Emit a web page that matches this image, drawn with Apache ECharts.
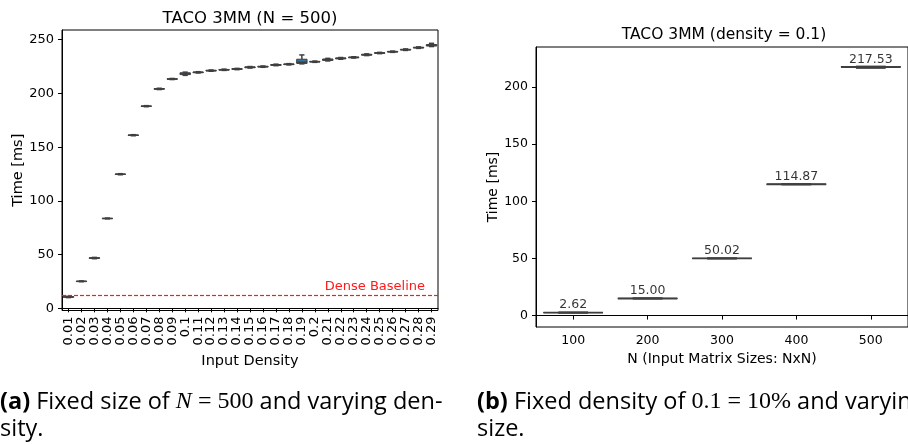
<!DOCTYPE html>
<html>
<head>
<meta charset="utf-8">
<script src="https://cdn.jsdelivr.net/npm/echarts@6/dist/echarts.min.js"></script>
<style>
  html, body { margin: 0; padding: 0; background: #fff; }
  #main { width: 908px; height: 445px; }
</style>
</head>
<body>
<div id="main"></div>
<script>
// (a) TACO 3MM, N = 500, varying density: [min, q1, median, q3, max] in ms
const densityLabels = ['0.01', '0.02', '0.03', '0.04', '0.05', '0.06', '0.07', '0.08', '0.09', '0.1',
  '0.11', '0.12', '0.13', '0.14', '0.15', '0.16', '0.17', '0.18', '0.19', '0.2',
  '0.21', '0.22', '0.23', '0.24', '0.25', '0.26', '0.27', '0.28', '0.29'];
const densityStats = [
  [10.0, 10.3, 10.6, 10.9, 11.2],
  [24.8, 25.0, 25.1, 25.3, 25.5],
  [46.2, 46.5, 46.8, 47.1, 47.4],
  [83.3, 83.5, 83.6, 83.8, 84.0],
  [124.3, 124.6, 124.8, 125.0, 125.3],
  [160.6, 160.9, 161.1, 161.3, 161.6],
  [187.6, 187.9, 188.1, 188.3, 188.6],
  [203.6, 203.9, 204.2, 204.5, 204.8],
  [212.9, 213.2, 213.4, 213.6, 213.9],
  [216.8, 217.5, 218.3, 219.2, 219.8],
  [219.0, 219.3, 219.6, 219.9, 220.2],
  [220.6, 220.9, 221.2, 221.5, 221.8],
  [221.4, 221.7, 222.0, 222.3, 222.6],
  [222.1, 222.4, 222.7, 223.0, 223.3],
  [223.6, 223.9, 224.3, 224.7, 225.0],
  [224.3, 224.6, 224.9, 225.2, 225.5],
  [225.8, 226.1, 226.5, 226.9, 227.2],
  [226.5, 226.8, 227.1, 227.4, 227.7],
  [227.5, 227.9, 229.0, 231.8, 235.8],
  [228.9, 229.2, 229.5, 229.8, 230.1],
  [230.2, 230.7, 231.4, 232.0, 232.6],
  [231.8, 232.2, 232.6, 233.0, 233.4],
  [232.9, 233.2, 233.5, 233.8, 234.1],
  [235.2, 235.6, 236.0, 236.4, 236.8],
  [237.0, 237.3, 237.6, 237.9, 238.2],
  [238.2, 238.5, 238.8, 239.1, 239.4],
  [240.0, 240.4, 240.7, 241.0, 241.4],
  [241.9, 242.3, 242.6, 242.9, 243.3],
  [243.6, 244.1, 244.7, 245.5, 246.6]
];
const denseBaseline = 12;
const leftTicks = [0, 50, 100, 150, 200, 250];

// (b) TACO 3MM, density = 0.1, varying N
const sizeLabels = ['100', '200', '300', '400', '500'];
const sizeMedians = [2.62, 15.00, 50.02, 114.87, 217.53];
const sizeStats = [
  [2.60, 2.61, 2.62, 2.63, 2.64],
  [14.98, 14.99, 15.00, 15.01, 15.02],
  [50.00, 50.01, 50.02, 50.03, 50.04],
  [114.85, 114.86, 114.87, 114.88, 114.89],
  [216.7, 217.4, 217.53, 217.8, 217.9]
];
const rightTicks = [0, 50, 100, 150, 200];

const BOX = '#3274a1';
const EDGE = '#3f3f3f';
const RED = '#ff1a1a';
const FONT = 'DejaVu Sans';

function makeBoxItem(lw) {
  return function (params, api) {
    const i = api.value(0);
    const lo = api.coord([i, api.value(1)]);
    const q1 = api.coord([i, api.value(2)]);
    const md = api.coord([i, api.value(3)]);
    const q3 = api.coord([i, api.value(4)]);
    const hi = api.coord([i, api.value(5)]);
    const w = api.size([1, 0])[0] * 0.8;
    const cx = md[0];
    const st = { stroke: EDGE, lineWidth: lw };
    return {
      type: 'group',
      children: [
        { type: 'line', shape: { x1: cx, y1: lo[1], x2: cx, y2: q1[1] }, style: st },
        { type: 'line', shape: { x1: cx, y1: q3[1], x2: cx, y2: hi[1] }, style: st },
        { type: 'line', shape: { x1: cx - w / 4, y1: lo[1], x2: cx + w / 4, y2: lo[1] }, style: st },
        { type: 'line', shape: { x1: cx - w / 4, y1: hi[1], x2: cx + w / 4, y2: hi[1] }, style: st },
        { type: 'rect', shape: { x: cx - w / 2, y: q3[1], width: w, height: q1[1] - q3[1] },
          style: { fill: BOX, stroke: EDGE, lineWidth: 1 } },
        { type: 'line', shape: { x1: cx - w / 2, y1: md[1], x2: cx + w / 2, y2: md[1] }, style: st }
      ]
    };
  };
}

// horizontal reference line across the whole grid, drawn as short red dashes
function baselineItem(params, api) {
  const cs = params.coordSys;
  const y = Math.round(api.coord([0, api.value(1)])[1]) + 0.5;
  const dashes = [];
  for (let x = cs.x; x < cs.x + cs.width; x += 6) {
    dashes.push({
      type: 'line',
      shape: { x1: x, y1: y, x2: Math.min(x + 4, cs.x + cs.width), y2: y },
      style: { stroke: RED, lineWidth: 1.2 }
    });
  }
  dashes.push({
    type: 'text', x: cs.x + cs.width - 13, y: y - 2,
    style: { text: 'Dense Baseline', fill: RED, font: '13px "DejaVu Sans"', align: 'right', verticalAlign: 'bottom' }
  });
  return { type: 'group', children: dashes };
}

const chart = echarts.init(document.getElementById('main'), null, { renderer: 'canvas' });

const axisBase = {
  axisLine: { show: true, lineStyle: { color: '#000', width: 1 } },
  splitLine: { show: false }
};

chart.setOption({
  animation: false,
  textStyle: { fontFamily: FONT, color: '#000' },
  grid: [
    { left: 62, top: 30, width: 376, height: 280.5, show: true, borderColor: '#000', borderWidth: 1 },
    { left: 536, top: 47, width: 376, height: 280, show: true, borderColor: '#000', borderWidth: 1 }
  ],
  xAxis: [
    {
      ...axisBase,
      type: 'category',
      gridIndex: 0,
      data: densityLabels,
      name: 'Input Density',
      nameLocation: 'middle',
      nameGap: 38,
      nameTextStyle: { fontSize: 14.5, color: '#000', fontFamily: FONT },
      axisTick: { show: true, alignWithLabel: true, interval: 0, length: 4, lineStyle: { color: '#000' } },
      axisLabel: { interval: 0, rotate: 90, fontSize: 13, margin: 6, color: '#000', fontFamily: FONT }
    },
    {
      ...axisBase,
      type: 'category',
      gridIndex: 1,
      data: sizeLabels,
      name: 'N (Input Matrix Sizes: NxN)',
      nameLocation: 'middle',
      nameGap: 24,
      nameTextStyle: { fontSize: 14, color: '#000', fontFamily: FONT },
      axisTick: { show: true, alignWithLabel: true, interval: 0, length: 4, lineStyle: { color: '#000' } },
      axisLabel: { interval: 0, fontSize: 12.5, margin: 7, color: '#000', fontFamily: FONT }
    }
  ],
  yAxis: [
    {
      ...axisBase,
      type: 'value',
      gridIndex: 0,
      min: -2,
      max: 259,
      name: 'Time [ms]',
      nameLocation: 'middle',
      nameGap: 35,
      nameTextStyle: { fontSize: 14.5, color: '#000', fontFamily: FONT },
      axisTick: { show: true, length: 4, customValues: leftTicks, lineStyle: { color: '#000' } },
      axisLabel: { fontSize: 13, margin: 8, color: '#000', customValues: leftTicks, fontFamily: FONT }
    },
    {
      ...axisBase,
      type: 'value',
      gridIndex: 1,
      min: -10,
      max: 235,
      name: 'Time [ms]',
      nameLocation: 'middle',
      nameGap: 36,
      nameTextStyle: { fontSize: 14, color: '#000', fontFamily: FONT },
      axisTick: { show: true, length: 4, customValues: rightTicks, lineStyle: { color: '#000' } },
      axisLabel: { fontSize: 12.5, margin: 8, color: '#000', customValues: rightTicks, fontFamily: FONT }
    }
  ],
  series: [
    {
      name: 'dense baseline',
      type: 'custom',
      xAxisIndex: 0,
      yAxisIndex: 0,
      silent: true,
      z: 5,
      renderItem: baselineItem,
      data: [[0, denseBaseline]]
    },
    {
      name: 'density',
      type: 'custom',
      xAxisIndex: 0,
      yAxisIndex: 0,
      z: 2,
      renderItem: makeBoxItem(1.5),
      data: densityStats.map((s, i) => [i].concat(s))
    },
    {
      name: 'size',
      type: 'custom',
      xAxisIndex: 1,
      yAxisIndex: 1,
      renderItem: makeBoxItem(1.9),
      data: sizeStats.map((s, i) => [i].concat(s))
    },
    {
      name: 'size labels',
      type: 'scatter',
      xAxisIndex: 1,
      yAxisIndex: 1,
      symbolSize: 0,
      silent: true,
      data: sizeMedians.map((v, i) => [i, v]),
      label: {
        show: true,
        position: 'top',
        distance: 1,
        fontSize: 12.5,
        color: '#000',
        fontFamily: FONT,
        formatter: p => p.value[1].toFixed(2)
      }
    }
  ],
  graphic: [
    { type: 'text', x: 250, y: 19, style: { text: 'TACO 3MM (N = 500)', font: '16.5px "DejaVu Sans"', fill: '#000', align: 'center', verticalAlign: 'middle' } },
    { type: 'text', x: 724, y: 35, style: { text: 'TACO 3MM (density = 0.1)', font: '15.5px "DejaVu Sans"', fill: '#000', align: 'center', verticalAlign: 'middle' } },
    {
      type: 'text', x: 0, y: 402,
      style: {
        text: '{b|(a)} Fixed size of {i|N} {m|= 500} and varying den-',
        font: '23.5px "Open Sans"', fill: '#000', verticalAlign: 'middle',
        rich: {
          b: { fontWeight: 'bold', fontSize: 23.5, fontFamily: 'Open Sans' },
          i: { fontStyle: 'italic', fontSize: 24, fontFamily: 'Liberation Serif' },
          m: { fontSize: 24, fontFamily: 'Liberation Serif' }
        }
      }
    },
    { type: 'text', x: 0, y: 429, style: { text: 'sity.', font: '23.5px "Open Sans"', fill: '#000', verticalAlign: 'middle' } },
    {
      type: 'text', x: 477, y: 402,
      style: {
        text: '{b|(b)} Fixed density of {m|0.1 = 10%} and varyin',
        font: '23.5px "Open Sans"', fill: '#000', verticalAlign: 'middle',
        rich: {
          b: { fontWeight: 'bold', fontSize: 23.5, fontFamily: 'Open Sans' },
          m: { fontSize: 24, fontFamily: 'Liberation Serif' }
        }
      }
    },
    { type: 'text', x: 477, y: 429, style: { text: 'size.', font: '23.5px "Open Sans"', fill: '#000', verticalAlign: 'middle' } }
  ]
});
</script>
</body>
</html>
